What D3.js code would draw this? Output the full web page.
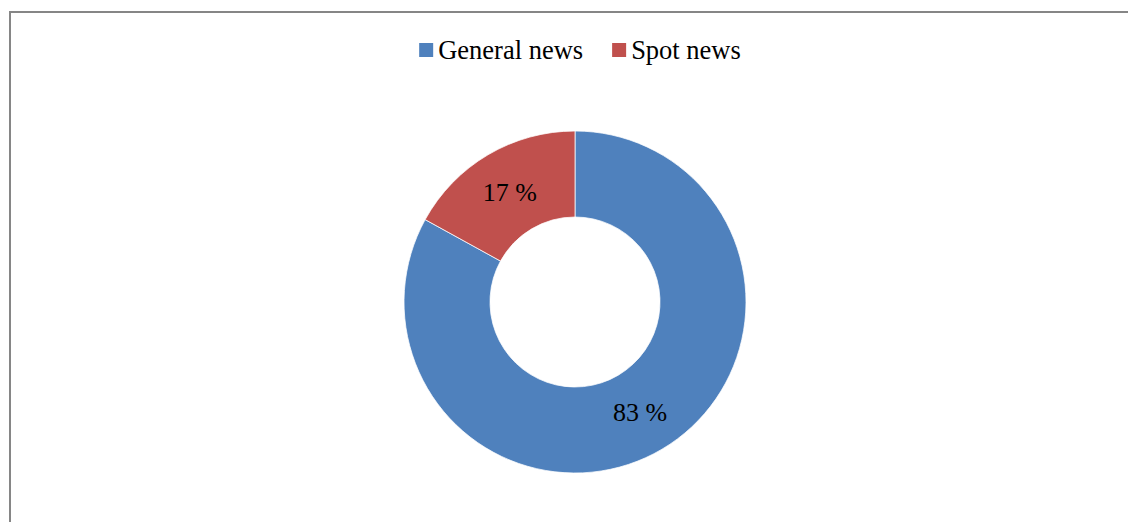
<!DOCTYPE html>
<html>
<head>
<meta charset="utf-8">
<script src="https://cdn.jsdelivr.net/npm/d3@7"></script>
<style>
  html, body { margin: 0; padding: 0; background: #fff; }
  svg { display: block; font-family: "Liberation Serif", "Times New Roman", serif; }
</style>
</head>
<body>
<svg id="chart" width="1128" height="522"></svg>
<script>
"use strict";

const categories = ["General news", "Spot news"];
const shares = [83, 17];
const valueLabels = ["83 %", "17 %"];
const colors = ["#4F81BD", "#C0504D"];

const svg = d3.select("#chart");
const width = 1128, height = 522;

// chart area frame (runs off right and bottom edge)
svg.append("rect")
    .attr("x", 10)
    .attr("y", 12)
    .attr("width", width + 20)
    .attr("height", height + 20)
    .attr("fill", "#fff")
    .attr("stroke", "#868686")
    .attr("stroke-width", 2);

const cx = 575, cy = 302;
const outerR = 171, innerR = 85;

const pie = d3.pie().sort(null).value(d => d.value);
const arc = d3.arc().innerRadius(innerR).outerRadius(outerR);

const data = categories.map((name, i) => ({name, value: shares[i], label: valueLabels[i], color: colors[i]}));

const g = svg.append("g").attr("transform", `translate(${cx},${cy})`);

const slices = g.selectAll("g.slice")
    .data(pie(data))
    .join("g")
    .classed("slice", true);

slices.append("path")
    .attr("d", arc)
    .attr("fill", d => d.data.color)
    .attr("stroke", "#fff")
    .attr("stroke-width", 0.75);

slices.append("text")
    .attr("transform", d => `translate(${arc.centroid(d).join()})`)
    .attr("text-anchor", "middle")
    .attr("dy", "0.35em")
    .attr("font-size", 26)
    .attr("fill", "#000")
    .text(d => d.data.label);

// legend
const legend = svg.append("g").attr("transform", "translate(0,50)");
const items = legend.selectAll("g.item")
    .data(data)
    .join("g")
    .classed("item", true);

items.append("rect")
    .attr("y", -7)
    .attr("width", 14)
    .attr("height", 14)
    .attr("fill", d => d.color);

items.append("text")
    .attr("x", 19)
    .attr("dy", "0.33em")
    .attr("font-size", 26.5)
    .attr("fill", "#000")
    .text(d => d.name);

// lay items out side by side, centred on the plot
let x = 0;
const gap = 29;
const offsets = [];
items.each(function() {
    offsets.push(x);
    x += this.getBBox().width + gap;
});
const total = x - gap;
const start = cx - total / 2 + 5;
items.attr("transform", (d, i) => `translate(${start + offsets[i]},0)`);
</script>
</body>
</html>
